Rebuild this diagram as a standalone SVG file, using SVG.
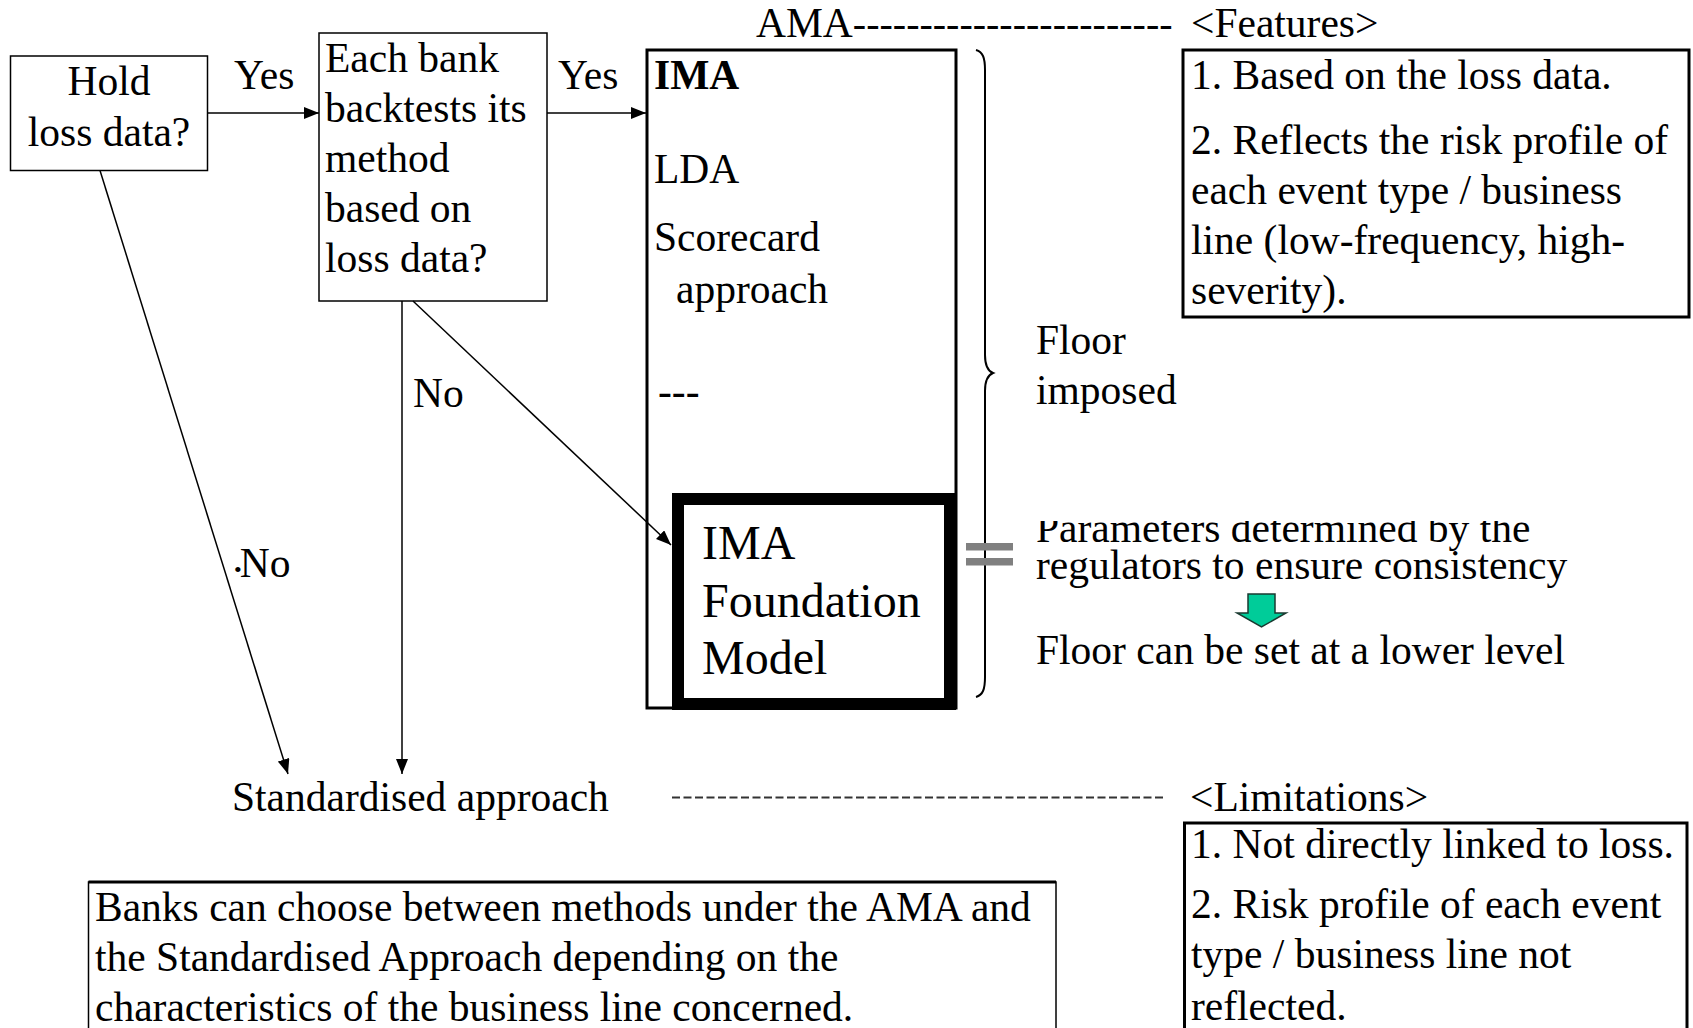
<svg xmlns="http://www.w3.org/2000/svg" width="1693" height="1028" viewBox="0 0 1693 1028">
<style>
text{font-family:"Liberation Serif","Times New Roman",serif;font-size:41.5px;fill:#000}
.box{fill:#fff;stroke:#000;stroke-width:1.5}
.thick{fill:#fff;stroke:#000;stroke-width:3}
.conn{stroke:#000;stroke-width:1.5;fill:none}
.big{font-size:48px}
.mid{text-anchor:middle}
</style>
<defs>
<marker id="arr" markerUnits="userSpaceOnUse" markerWidth="16" markerHeight="12" refX="15" refY="6" orient="auto">
<path d="M0,0 L15,6 L0,12 z" fill="#000"/>
</marker>
<clipPath id="clipParam"><rect x="1020" y="521" width="600" height="180"/></clipPath>
</defs>
<rect width="1693" height="1028" fill="#fff"/>

<g id="hold">
<rect class="box" x="10.5" y="56" width="197" height="114.5"/>
<text class="mid" x="109" y="95">Hold</text>
<text class="mid" x="109" y="146">loss data?</text>
</g>

<g id="backtest">
<rect class="box" x="319" y="33" width="228" height="268"/>
<text x="325" y="72">Each bank</text>
<text x="325" y="122">backtests its</text>
<text x="325" y="172">method</text>
<text x="325" y="222">based on</text>
<text x="325" y="272">loss data?</text>
</g>

<g id="ama-label">
<text x="756" y="37">AMA<tspan font-size="40">------------------------</tspan></text>
<text x="1191" y="37">&lt;Features&gt;</text>
</g>

<g id="ima">
<rect class="thick" x="647" y="50" width="309" height="658"/>
<text x="654" y="89" font-weight="bold">IMA</text>
<text x="654" y="183">LDA</text>
<text x="654" y="251">Scorecard</text>
<text x="676" y="303">approach</text>
<text x="658" y="405" font-size="21">---</text>
</g>

<g id="ima-foundation">
<rect x="678" y="499" width="272" height="205" fill="#fff" stroke="#000" stroke-width="12"/>
<text class="big" x="702" y="559">IMA</text>
<text class="big" x="702" y="617">Foundation</text>
<text class="big" x="702" y="674">Model</text>
</g>

<g id="brace">
<path d="M976,50 C983,52 985,58 985,70 L985,355 C985,366 988,371 993,373 C988,375 985,380 985,391 L985,677 C985,689 983,695 976,697" fill="none" stroke="#000" stroke-width="2"/>
<text x="1036" y="354">Floor</text>
<text x="1036" y="404">imposed</text>
</g>

<g id="equals">
<rect x="966" y="543" width="47" height="7.5" fill="#808080"/>
<rect x="966" y="558" width="47" height="7.5" fill="#808080"/>
</g>

<g id="parameters">
<text x="1036" y="542" clip-path="url(#clipParam)">Parameters determined by the</text>
<text x="1036" y="579">regulators to ensure consistency</text>
<polygon points="1248,594 1275,594 1275,613 1286,613 1261.5,627 1237,613 1248,613" fill="#00CC99" stroke="#1a3a30" stroke-width="1.5"/>
<text x="1036" y="664">Floor can be set at a lower level</text>
</g>

<g id="features">
<rect class="thick" x="1183" y="50" width="506" height="267"/>
<text x="1191" y="89">1. Based on the loss data.</text>
<text x="1191" y="154">2. Reflects the risk profile of</text>
<text x="1191" y="204">each event type / business</text>
<text x="1191" y="254">line (low-frequency, high-</text>
<text x="1191" y="304">severity).</text>
</g>

<g id="standardised">
<text x="232" y="811">Standardised approach</text>
<text x="1190" y="811">&lt;Limitations&gt;</text>
</g>

<g id="limitations">
<rect class="thick" x="1184.5" y="823" width="502.5" height="260"/>
<text x="1191" y="858">1. Not directly linked to loss.</text>
<text x="1191" y="918">2. Risk profile of each event</text>
<text x="1191" y="968">type / business line not</text>
<text x="1191" y="1020">reflected.</text>
</g>

<g id="note">
<rect class="box" x="88.5" y="882" width="967.5" height="200"/>
<line x1="88.5" y1="882" x2="1056" y2="882" stroke="#000" stroke-width="3"/>
<text x="95" y="921">Banks can choose between methods under the AMA and</text>
<text x="95" y="971">the Standardised Approach depending on the</text>
<text x="95" y="1021">characteristics of the business line concerned.</text>
</g>

<g id="connectors">
<line class="conn" x1="207.5" y1="113" x2="319" y2="113" marker-end="url(#arr)"/>
<line class="conn" x1="547" y1="113" x2="646" y2="113" marker-end="url(#arr)"/>
<line class="conn" x1="100" y1="170.5" x2="288" y2="774" marker-end="url(#arr)"/>
<line class="conn" x1="402" y1="301" x2="402" y2="774" marker-end="url(#arr)"/>
<line class="conn" x1="413" y1="301" x2="671" y2="545" marker-end="url(#arr)"/>
<line x1="672" y1="797.5" x2="1166" y2="797.5" stroke="#333" stroke-width="2" stroke-dasharray="8,3.5"/>
<text x="234" y="89">Yes</text>
<text x="558" y="89">Yes</text>
<text x="413" y="407">No</text>
<text x="234" y="577" font-size="35"><tspan font-size="22">•</tspan><tspan dx="-2">No</tspan></text>
</g>
</svg>
